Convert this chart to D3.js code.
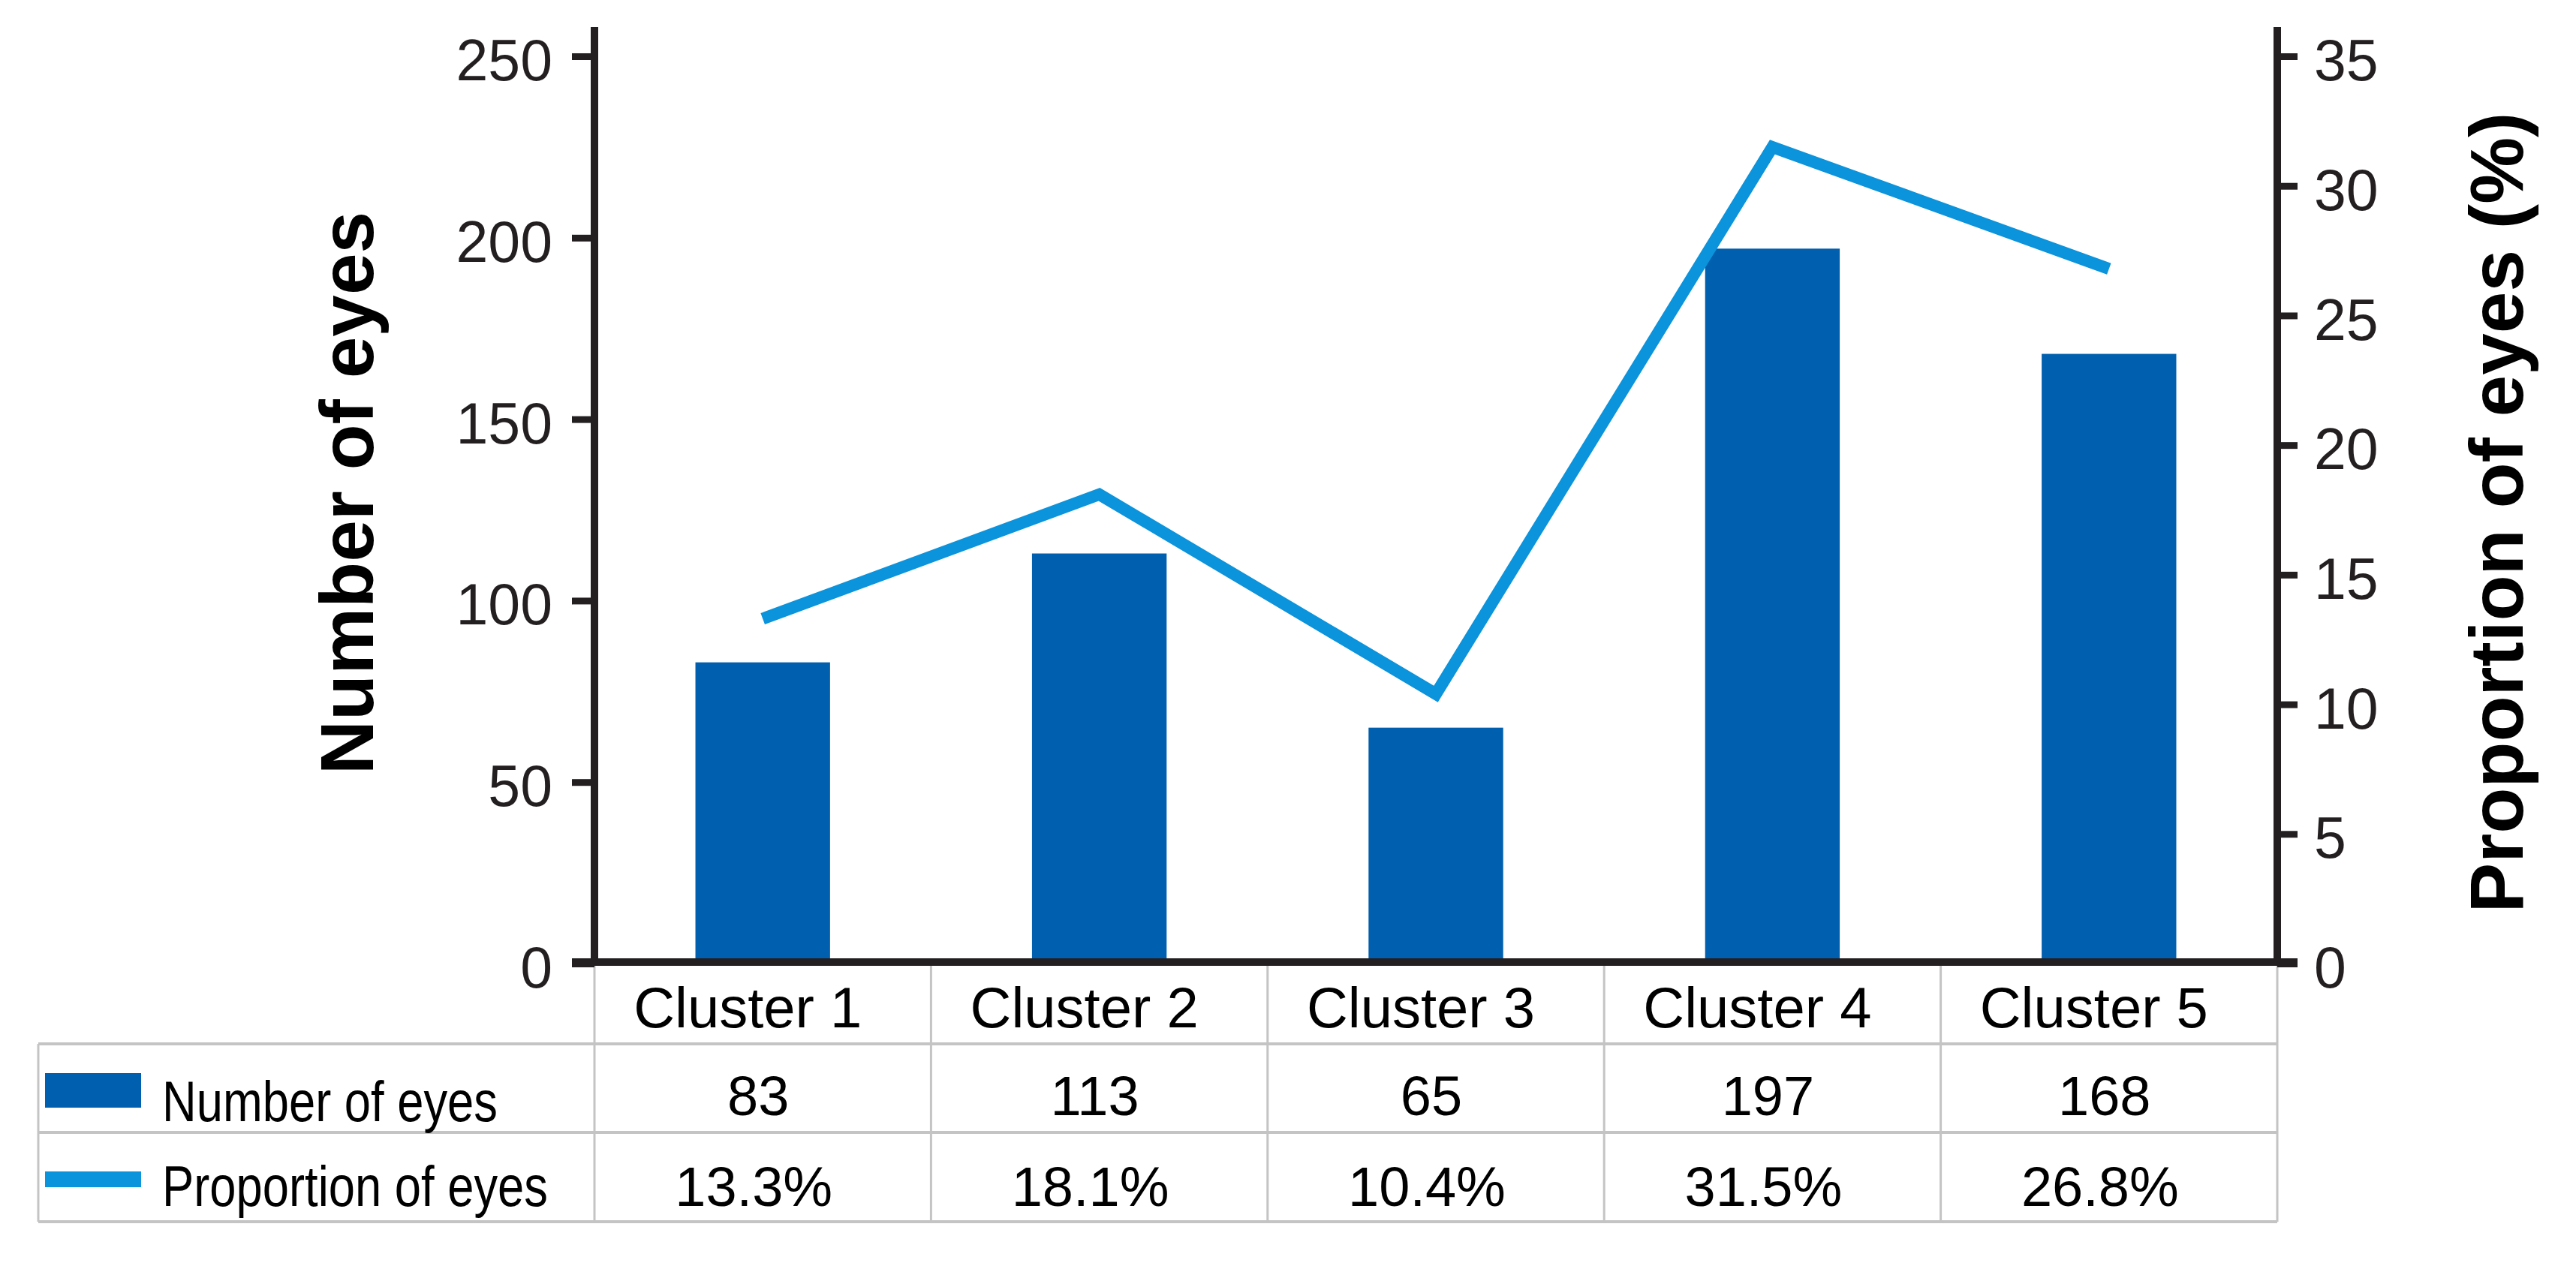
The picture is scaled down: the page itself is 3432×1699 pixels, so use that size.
<!DOCTYPE html>
<html>
<head>
<meta charset="utf-8">
<script src="https://cdn.jsdelivr.net/npm/d3@7"></script>
<style>
html,body{margin:0;padding:0;background:#fff;}
svg{display:block;}
text{font-family:"Liberation Sans",Arial,Helvetica,sans-serif;}
</style>
</head>
<body>
<svg id="chart" width="3432" height="1699"></svg>
<script>
// ---- data ----
const categories = ["Cluster 1","Cluster 2","Cluster 3","Cluster 4","Cluster 5"];
const eyeCounts = [83,113,65,197,168];
const eyeProportions = [13.3,18.1,10.4,31.5,26.8];
const proportionLabels = ["13.3%","18.1%","10.4%","31.5%","26.8%"];
const leftTicks = [0,50,100,150,200,250];
const rightTicks = [0,5,10,15,20,25,30,35];
const seriesNames = ["Number of eyes","Proportion of eyes"];
const leftAxisTitle = "Number of eyes";
const rightAxisTitle = "Proportion of eyes (%)";

// ---- styles ----
const barColor = "#005fae";
const lineColor = "#0b93dc";
const axisColor = "#231f20";
const gridColor = "#c4c4c4";

const svg = d3.select("#chart");

const plotLeft = 792, plotRight = 3034, plotTop = 75, plotBottom = 1284;

const x = d3.scaleBand().domain(categories).range([plotLeft, plotRight])
  .paddingInner(0.6).paddingOuter(0.3);
const xCol = d3.scaleBand().domain(categories).range([plotLeft, plotRight]).padding(0);
const yL = d3.scaleLinear().domain([0,250]).range([plotBottom, plotTop]);
const yR = d3.scaleLinear().domain([0,35]).range([plotBottom, plotTop]);

// ---- table ----
const tableLeft = 51;
const rowLines = [1391, 1509, 1628];
const g = svg.append("g");
rowLines.forEach(yy => {
  g.append("line").attr("x1", tableLeft).attr("x2", plotRight)
    .attr("y1", yy).attr("y2", yy).attr("stroke", gridColor).attr("stroke-width", 4);
});
g.append("line").attr("x1", tableLeft).attr("x2", tableLeft)
  .attr("y1", rowLines[0]).attr("y2", rowLines[2]).attr("stroke", gridColor).attr("stroke-width", 3);
const colEdges = categories.map(c => xCol(c)).concat([plotRight]);
colEdges.forEach(xx => {
  g.append("line").attr("x1", xx).attr("x2", xx)
    .attr("y1", plotBottom).attr("y2", rowLines[2]).attr("stroke", gridColor).attr("stroke-width", 3);
});

// cluster labels
svg.append("g").selectAll("text").data(categories).join("text")
  .attr("x", d => xCol(d) + xCol.bandwidth()/2 - 20)
  .attr("y", 1369)
  .attr("text-anchor", "middle")
  .attr("font-size", 76)
  .attr("fill", "#000")
  .text(d => d);

svg.append("g").selectAll("text").data(eyeCounts).join("text")
  .attr("x", (d,i) => xCol(categories[i]) + xCol.bandwidth()/2 - 6)
  .attr("y", 1486)
  .attr("text-anchor", "middle")
  .attr("font-size", 74)
  .attr("fill", "#000")
  .text(d => d);

svg.append("g").selectAll("text").data(proportionLabels).join("text")
  .attr("x", (d,i) => xCol(categories[i]) + xCol.bandwidth()/2 - 12)
  .attr("y", 1607)
  .attr("text-anchor", "middle")
  .attr("font-size", 74)
  .attr("fill", "#000")
  .text(d => d);

// legend in table
svg.append("rect").attr("x", 60).attr("y", 1430).attr("width", 128).attr("height", 46).attr("fill", barColor);
svg.append("rect").attr("x", 60).attr("y", 1561).attr("width", 128).attr("height", 21).attr("fill", lineColor);
svg.append("text").attr("x", 216).attr("y", 1494).attr("font-size", 76)
  .attr("textLength", 447).attr("lengthAdjust", "spacingAndGlyphs").attr("fill", "#000").text(seriesNames[0]);
svg.append("text").attr("x", 216).attr("y", 1607).attr("font-size", 76)
  .attr("textLength", 514).attr("lengthAdjust", "spacingAndGlyphs").attr("fill", "#000").text(seriesNames[1]);

// ---- bars ----
svg.append("g").selectAll("rect").data(eyeCounts).join("rect")
  .attr("x", (d,i) => x(categories[i]))
  .attr("width", x.bandwidth())
  .attr("y", d => yL(d))
  .attr("height", d => yL(0) - yL(d))
  .attr("fill", barColor);

// ---- line ----
const line = d3.line()
  .x((d,i) => x(categories[i]) + x.bandwidth()/2)
  .y(d => yR(d));
svg.append("path").datum(eyeProportions)
  .attr("d", line)
  .attr("fill", "none")
  .attr("stroke", lineColor)
  .attr("stroke-width", 16)
  .attr("stroke-linejoin", "miter")
  .attr("stroke-linecap", "butt");

// ---- axes ----
const axisL = svg.append("g").attr("transform", `translate(${plotLeft},0)`)
  .call(d3.axisLeft(yL).tickValues(leftTicks).tickSize(30).tickSizeOuter(0).tickPadding(26));
axisL.select(".domain").remove();
axisL.selectAll(".tick line").attr("stroke", axisColor).attr("stroke-width", 9);
axisL.selectAll(".tick text").attr("font-size", 77).attr("fill", axisColor)
  .attr("font-family", '"Liberation Sans",Arial,sans-serif').attr("dy", "0.41em");

const axisR = svg.append("g").attr("transform", `translate(${plotRight},0)`)
  .call(d3.axisRight(yR).tickValues(rightTicks).tickSize(27).tickSizeOuter(0).tickPadding(22));
axisR.select(".domain").remove();
axisR.selectAll(".tick line").attr("stroke", axisColor).attr("stroke-width", 9);
axisR.selectAll(".tick text").attr("font-size", 77).attr("fill", axisColor)
  .attr("font-family", '"Liberation Sans",Arial,sans-serif').attr("dy", "0.41em");

// axis spines
svg.append("line").attr("x1", plotLeft).attr("x2", plotLeft)
  .attr("y1", 36).attr("y2", yL(0)).attr("stroke", axisColor).attr("stroke-width", 10);
svg.append("line").attr("x1", plotRight).attr("x2", plotRight)
  .attr("y1", 36).attr("y2", yR(0)).attr("stroke", axisColor).attr("stroke-width", 10);
svg.append("line").attr("x1", plotLeft - 30).attr("x2", plotRight + 27)
  .attr("y1", yL(0) - 2).attr("y2", yL(0) - 2).attr("stroke", axisColor).attr("stroke-width", 10);

// axis titles
svg.append("text")
  .attr("transform", `translate(497,${657}) rotate(-90)`)
  .attr("text-anchor", "middle")
  .attr("font-size", 100).attr("font-weight", "bold").attr("fill", "#000")
  .text(leftAxisTitle);
svg.append("text")
  .attr("transform", `translate(3361,${683}) rotate(-90)`)
  .attr("text-anchor", "middle")
  .attr("font-size", 100).attr("font-weight", "bold").attr("fill", "#000")
  .text(rightAxisTitle);
</script>
</body>
</html>
